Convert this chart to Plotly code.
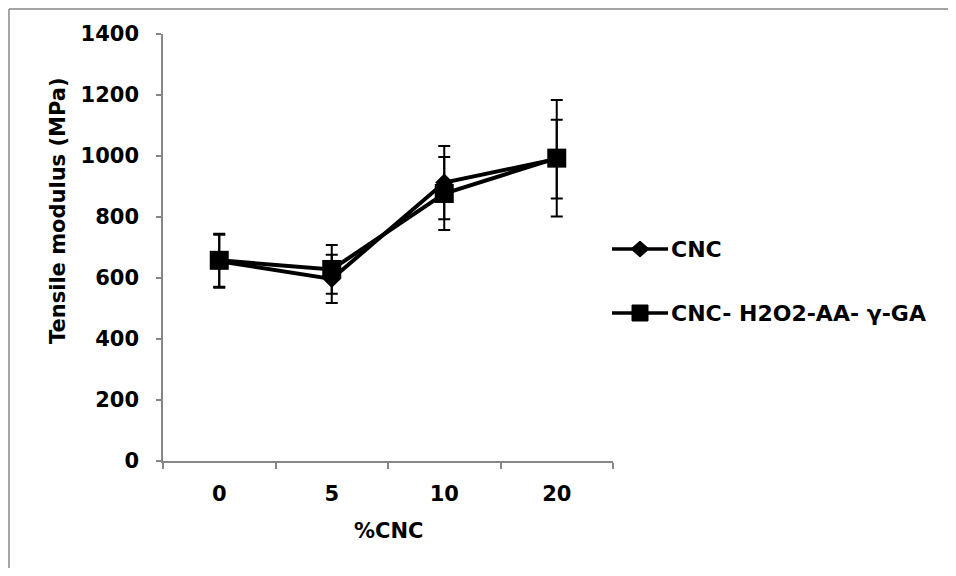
import plotly.graph_objects as go

categories = ["0", "5", "10", "20"]
cnc_values = [655, 597, 913, 990]
cnc_errors = [87, 79, 120, 129]
mod_values = [658, 628, 877, 993]
mod_errors = [87, 80, 120, 191]
series_names = ["CNC", "CNC- H2O2-AA- γ-GA"]
y_ticks = [0, 200, 400, 600, 800, 1000, 1200, 1400]

FONT = "DejaVu Sans"
FS = 21
OFF = 8  # page body margin
W, H = 940, 560
L, R, T, B = 155, 335, 26, 107
PW, PH = W - L - R, H - T - B


def px(x):
    return (x - OFF - L) / PW


def py(y):
    return (H - B - (y - OFF)) / PH


fig = go.Figure()
fig.add_trace(go.Scatter(
    x=categories, y=cnc_values, name=series_names[0], mode="lines+markers",
    line=dict(color="black", width=4),
    marker=dict(symbol="diamond", size=14, color="black"),
    error_y=dict(type="data", array=cnc_errors, visible=True, color="black", thickness=2, width=6),
    showlegend=False,
))
fig.add_trace(go.Scatter(
    x=categories, y=mod_values, name=series_names[1], mode="lines+markers",
    line=dict(color="black", width=4),
    marker=dict(symbol="square", size=19, color="black"),
    error_y=dict(type="data", array=mod_errors, visible=True, color="black", thickness=2, width=6),
    showlegend=False,
))

shapes = []
# outer frame (left and top edges only)
shapes.append(dict(type="line", xref="paper", yref="paper", x0=px(9), x1=px(9), y0=py(9), y1=py(700),
                   line=dict(color="#878787", width=1.5), layer="below"))
shapes.append(dict(type="line", xref="paper", yref="paper", x0=px(9), x1=px(1100), y0=py(9), y1=py(9),
                   line=dict(color="#878787", width=1.5), layer="below"))
# custom legend
leg_y = [249, 313]
for yy in leg_y:
    shapes.append(dict(type="line", xref="paper", yref="paper", x0=px(612), x1=px(668), y0=py(yy), y1=py(yy),
                       line=dict(color="black", width=3.5)))
cx = 640
yy = leg_y[0]
shapes.append(dict(type="path", xref="paper", yref="paper",
                   path=f"M {px(cx-9)},{py(yy)} L {px(cx)},{py(yy-8)} L {px(cx+9)},{py(yy)} L {px(cx)},{py(yy+8)} Z",
                   fillcolor="black", line=dict(color="black", width=1)))
yy = leg_y[1]
shapes.append(dict(type="rect", xref="paper", yref="paper", x0=px(cx-8), x1=px(cx+8), y0=py(yy+8), y1=py(yy-8),
                   fillcolor="black", line=dict(color="black", width=1)))

annotations = []
for name, yy in zip(series_names, leg_y):
    annotations.append(dict(text=f"<b>{name}</b>", xref="paper", yref="paper", x=px(669), y=py(yy),
                            xanchor="left", yanchor="middle", showarrow=False,
                            font=dict(family=FONT, size=FS + 1, color="black")))
annotations.append(dict(text="<b>Tensile modulus (MPa)</b>", xref="paper", yref="paper", x=px(58), y=py(211),
                        xanchor="center", yanchor="middle", textangle=-90, showarrow=False,
                        font=dict(family=FONT, size=FS, color="black")))
annotations.append(dict(text="<b>%CNC</b>", xref="paper", yref="paper", x=px(388), y=py(531),
                        xanchor="center", yanchor="middle", showarrow=False,
                        font=dict(family=FONT, size=FS, color="black")))

fig.update_layout(
    width=W, height=H,
    margin=dict(l=L, r=R, t=T, b=B, pad=0),
    paper_bgcolor="white", plot_bgcolor="white",
    shapes=shapes, annotations=annotations,
    font=dict(family=FONT, size=FS, color="black"),
)
fig.update_xaxes(
    type="category", categoryorder="array", categoryarray=categories,
    range=[-0.5, 3.5], showgrid=False, zeroline=False,
    showline=True, linecolor="#868686", linewidth=1.5,
    ticks="outside", tickson="boundaries", ticklen=6, tickcolor="#868686", tickwidth=1.5,
    tickfont=dict(family=FONT, size=FS, color="black", weight="bold"),
    ticklabelstandoff=13,
)
fig.update_yaxes(
    range=[0, 1400], tickvals=y_ticks, showgrid=False, zeroline=False,
    showline=True, linecolor="#868686", linewidth=1.5,
    ticks="outside", ticklen=5, tickcolor="#868686", tickwidth=1.5,
    tickfont=dict(family=FONT, size=FS, color="black", weight="bold"),
    ticklabelstandoff=13,
)

fig.write_html("out.html")
